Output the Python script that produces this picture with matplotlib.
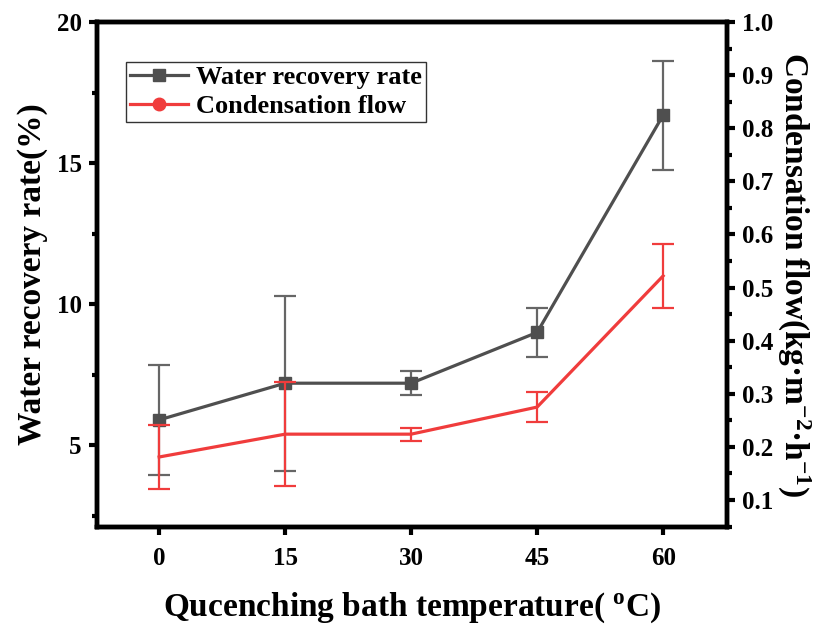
import numpy as np
import matplotlib
matplotlib.use("Agg")
import matplotlib.pyplot as plt
from matplotlib.lines import Line2D
from matplotlib.ticker import MultipleLocator

# =====================================================
# DATA
# =====================================================

temperature = [0, 15, 30, 45, 60]

recovery_rate = [5.9, 7.2, 7.2, 9.0, 16.7]
recovery_err = [1.95, 3.1, 0.43, 0.88, 1.93]

condensation_flow = [0.181, 0.224, 0.224, 0.275, 0.522]
condensation_err = [0.060, 0.098, 0.012, 0.029, 0.060]

# =====================================================
# STYLE
# =====================================================

plt.rcParams["font.family"] = ["Liberation Serif", "DejaVu Serif"]
plt.rcParams["font.weight"] = "bold"
plt.rcParams["mathtext.default"] = "regular"

gray = "#4f4f4f"
gray_err = "#666666"
red = "#f03c3c"

fig = plt.figure(figsize=(8.15, 6.29), dpi=100)
ax = fig.add_axes([0.119, 0.162, 0.773, 0.803])
ax2 = ax.twinx()

# =====================================================
# PLOT
# =====================================================

ax.errorbar(
    temperature, recovery_rate, yerr=recovery_err,
    fmt="none", ecolor=gray_err, elinewidth=1.6,
    capsize=8, capthick=1.6, zorder=2
)
ax.plot(
    temperature, recovery_rate, color=gray, lw=2.3,
    marker="s", markersize=8.5, zorder=3
)

ax2.errorbar(
    temperature, condensation_flow, yerr=condensation_err,
    fmt="none", ecolor=red, elinewidth=1.6,
    capsize=8, capthick=1.6, zorder=2
)
ax2.plot(temperature, condensation_flow, color=red, lw=2.3, zorder=3)

# =====================================================
# AXES
# =====================================================

ax.set_xlim(-7.4, 67.6)
ax.set_ylim(2.1, 20)
ax2.set_ylim(0.049, 1.0)

ax.set_xticks(temperature)
ax.yaxis.set_major_locator(MultipleLocator(5))
ax.yaxis.set_minor_locator(MultipleLocator(2.5))
ax2.yaxis.set_minor_locator(MultipleLocator(0.05))
ax2.set_yticks(np.arange(0.1, 1.01, 0.1))
ax2.set_yticklabels([f"{v:.1f}" for v in np.arange(0.1, 1.01, 0.1)])

for a in (ax, ax2):
    for s in a.spines.values():
        s.set_linewidth(3.2)
    a.tick_params(which="major", direction="out", length=6, width=3,
                  labelsize=18, pad=5)
    a.tick_params(which="minor", direction="out", length=3.5, width=3)
ax.tick_params(axis="x", pad=8)

for lab in ax.get_xticklabels() + ax.get_yticklabels() + ax2.get_yticklabels():
    lab.set_fontweight("bold")

ax.set_xlabel("Qucenching bath temperature( $^{o}$C)",
              fontsize=24, fontweight="bold", labelpad=15)
ax.set_ylabel("Water recovery rate(%)",
              fontsize=24, fontweight="bold", labelpad=6)
ax2.set_ylabel("Condensation flow(kg·m$^{-2}$·h$^{-1}$)",
               fontsize=24, fontweight="bold", rotation=270, labelpad=28)

# =====================================================
# LEGEND
# =====================================================

handles = [
    Line2D([], [], color=gray, lw=2.3, marker="s", markersize=8),
    Line2D([], [], color=red, lw=2.3, marker="o", markersize=9),
]
leg = ax.legend(
    handles, ["Water recovery rate", "Condensation flow"],
    loc="upper left", bbox_to_anchor=(0.046, 0.921),
    prop={"family": "Liberation Serif", "weight": "bold", "size": 19},
    frameon=True, fancybox=False, edgecolor="black",
    handlelength=2.2, handletextpad=0.3, borderpad=0.15,
    labelspacing=0.2, borderaxespad=0
)
leg.get_frame().set_linewidth(1.0)

plt.savefig("out.png", dpi=100)
